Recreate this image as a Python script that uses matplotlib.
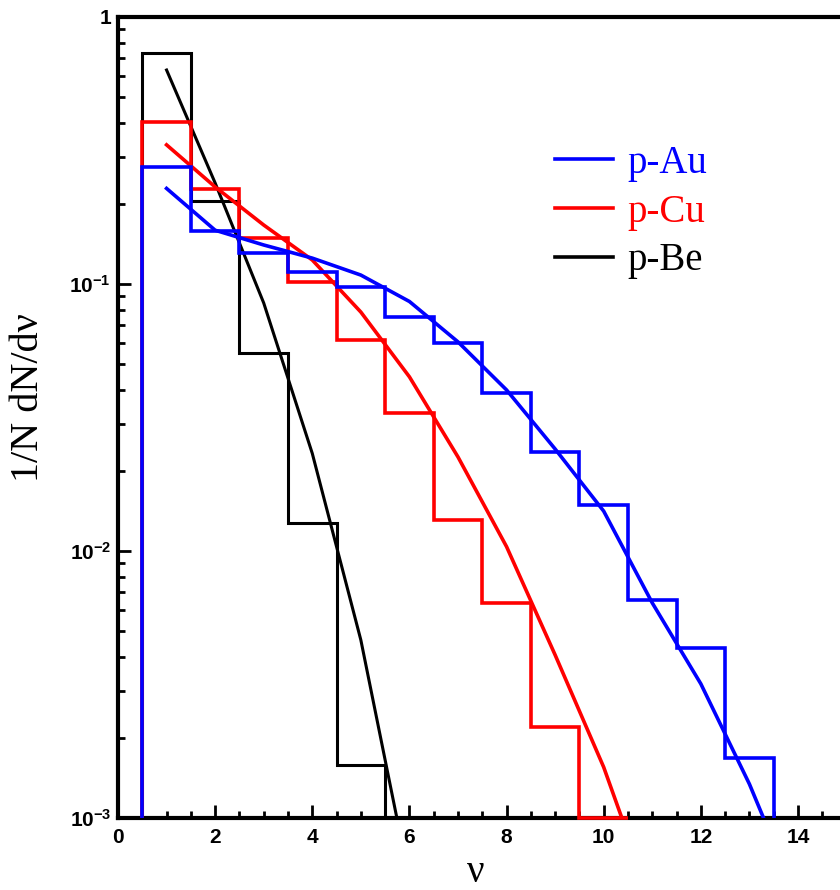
import numpy as np
import matplotlib
matplotlib.use("Agg")
import matplotlib.pyplot as plt
from matplotlib.ticker import MultipleLocator, FixedLocator, FixedFormatter, LogLocator, NullFormatter
from matplotlib.lines import Line2D

plt.rcParams['mathtext.fontset'] = 'custom'
plt.rcParams['mathtext.rm'] = 'Liberation Sans:bold'
plt.rcParams['mathtext.it'] = 'Liberation Sans:bold'
plt.rcParams['mathtext.bf'] = 'Liberation Sans:bold'

# ---- data ----
labels = ["p-Au", "p-Cu", "p-Be"]
colors = ["#0000ff", "#ff0000", "#000000"]

# histograms (bin edges at half-integers)
au_edges = np.arange(0.5, 14.0, 1.0)
au_hist = [0.274, 0.158, 0.1306, 0.111, 0.0975, 0.0752, 0.0600, 0.0392,
           0.0235, 0.01487, 0.00655, 0.00434, 0.00168]
cu_edges = np.arange(0.5, 11.0, 1.0)
cu_hist = [0.404, 0.227, 0.149, 0.1017, 0.0617, 0.0328, 0.01306, 0.0064,
           0.00219, 0.001]
be_edges = np.arange(0.5, 6.0, 1.0)
be_hist = [0.733, 0.204, 0.055, 0.01276, 0.00158]

# model curves (sampled at integer nu)
au_x = list(range(1, 15))
au_y = [0.228, 0.159, 0.140, 0.125, 0.108, 0.0860, 0.0607, 0.0401, 0.0241,
        0.0141, 0.00639, 0.00318, 0.00134, 0.00049]
cu_x = list(range(1, 12))
cu_y = [0.332, 0.231, 0.1663, 0.123, 0.0785, 0.0449, 0.0225, 0.01038,
        0.00408, 0.00155, 0.00048]
be_x = list(range(1, 7))
be_y = [0.633, 0.239, 0.0849, 0.0232, 0.00464, 0.000586]

# ---- figure ----
fig = plt.figure(figsize=(8.4, 8.9), dpi=100)
ax = fig.add_axes([118/840, 72/890, 722/840, 801/890])
ax.set_yscale('log')
ax.set_xlim(0, 722/48.57)
ax.set_ylim(1e-3, 1)

series = [
    (be_edges, be_hist, be_x, be_y, colors[2], 2.2),
    (cu_edges, cu_hist, cu_x, cu_y, colors[1], 2.6),
    (au_edges, au_hist, au_x, au_y, colors[0], 2.6),
]
for edges, h, cx, cy, c, lw in series:
    ax.stairs(h, edges, baseline=1e-3, color=c, lw=lw, clip_on=False, zorder=3)
    ax.plot(cx, cy, color=c, lw=lw, zorder=3)

for s in ['left', 'bottom', 'top']:
    ax.spines[s].set_linewidth(3)
ax.spines['right'].set_visible(False)

ax.xaxis.set_major_locator(MultipleLocator(2))
ax.xaxis.set_minor_locator(MultipleLocator(0.5))
ax.yaxis.set_major_locator(FixedLocator([1e-3, 1e-2, 1e-1, 1]))
ax.yaxis.set_major_formatter(FixedFormatter([r'$10^{-3}$', r'$10^{-2}$', r'$10^{-1}$', '1']))
ax.yaxis.set_minor_locator(LogLocator(base=10, subs=np.arange(2, 10)))
ax.yaxis.set_minor_formatter(NullFormatter())

ax.tick_params(which='both', direction='in', top=False, right=False, width=2)
ax.tick_params(which='major', length=9.5)
ax.tick_params(which='minor', length=5)
ax.tick_params(axis='x', which='major', pad=7, labelsize=15)
ax.tick_params(axis='y', which='major', pad=5, labelsize=15)
for t in ax.get_xticklabels():
    t.set_fontfamily('Liberation Sans')
    t.set_fontweight('bold')
for t in ax.get_yticklabels():
    t.set_fontfamily('Liberation Sans')
    t.set_fontweight('bold')

fig.text(28/840, 1 - 398/890, "1/N dN/d\u03bd", rotation=90, ha='center', va='center',
         fontsize=29, family='Liberation Serif')
fig.text(476/840, 1 - 872/890, "\u03bd", ha='center', va='center',
         fontsize=28, family='Liberation Serif')

handles = [Line2D([], [], color=c, lw=2.6) for c in colors]
leg = ax.legend(handles, labels, loc='upper left',
                bbox_to_anchor=((555-118)/722, (818-145)/801),
                frameon=False, borderpad=0, borderaxespad=0,
                handlelength=1.5, handletextpad=0.36, labelspacing=0.3,
                prop={'family': 'Liberation Serif', 'size': 28},
                labelcolor='linecolor')

fig.savefig("out.png", dpi=100)
